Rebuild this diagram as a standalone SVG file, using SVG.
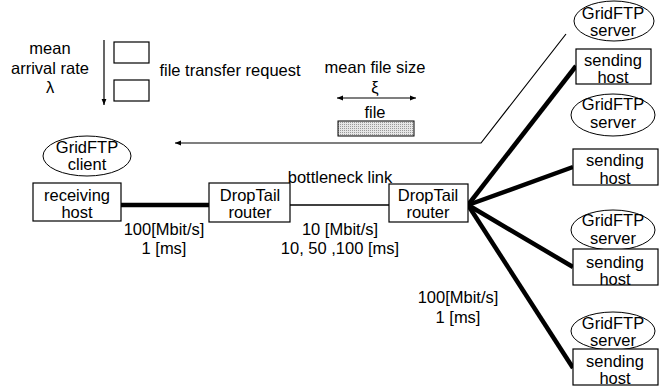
<svg xmlns="http://www.w3.org/2000/svg" width="672" height="388" viewBox="0 0 672 388">
<defs>
<style>
text{font-family:"Liberation Sans",Arial,sans-serif;font-size:16.5px;fill:#000;text-anchor:middle}
.box{fill:#fff;stroke:#000;stroke-width:1.2}
.ell{fill:#fff;stroke:#000;stroke-width:1}
.thin{stroke:#000;stroke-width:1.2;fill:none}
.thick{stroke:#000;stroke-width:4.5;fill:none}
</style>
<marker id="ah" viewBox="0 0 10 10" refX="10" refY="5" markerWidth="6" markerHeight="6" markerUnits="userSpaceOnUse" orient="auto-start-reverse">
<path d="M0,1 L10,5 L0,9 z" fill="#000"/>
</marker>
<pattern id="dots" width="2" height="2" patternUnits="userSpaceOnUse">
<rect width="2" height="2" fill="#e6e6e6"/>
<rect width="1" height="1" fill="#999"/>
</pattern>
</defs>

<g id="connectors">
<line class="thin" x1="104" y1="40" x2="104" y2="105" marker-end="url(#ah)"/>
<polyline class="thin" points="566,34 481,143 175,143" marker-end="url(#ah)"/>
<line class="thin" x1="337" y1="98" x2="416" y2="98" marker-start="url(#ah)" marker-end="url(#ah)"/>
<line class="thick" x1="121" y1="205" x2="209" y2="205"/>
<line class="thin" x1="290" y1="205" x2="389" y2="205" style="stroke-width:1.6"/>
<line class="thick" x1="468" y1="205" x2="576" y2="66"/>
<line class="thick" x1="468" y1="205" x2="573" y2="167"/>
<line class="thick" x1="468" y1="205" x2="573" y2="267"/>
<line class="thick" x1="468" y1="205" x2="573" y2="368"/>
</g>

<g id="request-queue">
<text x="50" y="54">mean</text>
<text x="50" y="74">arrival rate</text>
<text x="50" y="93">λ</text>
<rect class="box" x="114" y="42" width="35" height="21"/>
<rect class="box" x="114" y="80" width="35" height="21"/>
<text x="230" y="76">file transfer request</text>
</g>

<g id="file-size">
<text x="375" y="73">mean file size</text>
<text x="375" y="93">ξ</text>
<text x="375" y="118">file</text>
<rect x="338" y="121" width="76" height="15" fill="url(#dots)" stroke="#000" stroke-width="1"/>
</g>

<g id="client">
<ellipse class="ell" cx="87" cy="156" rx="44" ry="20"/>
<text x="87" y="153">GridFTP</text>
<text x="87" y="170">client</text>
</g>

<g id="receiving-host">
<rect class="box" x="33" y="183" width="88" height="38"/>
<text x="77" y="201">receiving</text>
<text x="77" y="218">host</text>
</g>

<g id="router1">
<rect class="box" x="209" y="183" width="81" height="39"/>
<text x="250" y="201">DropTail</text>
<text x="250" y="218">router</text>
</g>

<g id="router2">
<rect class="box" x="389" y="184" width="79" height="38"/>
<text x="428" y="201">DropTail</text>
<text x="428" y="218">router</text>
</g>

<g id="link-labels">
<text x="164" y="235">100[Mbit/s]</text>
<text x="164" y="254">1 [ms]</text>
<text x="340" y="183">bottleneck link</text>
<text x="340" y="235">10 [Mbit/s]</text>
<text x="340" y="254">10, 50 ,100 [ms]</text>
<text x="458" y="303">100[Mbit/s]</text>
<text x="458" y="323">1 [ms]</text>
</g>

<g id="server1">
<ellipse class="ell" cx="614" cy="21" rx="40" ry="20"/>
<text x="613" y="19">GridFTP</text>
<text x="613" y="36">server</text>
<rect class="box" x="576" y="49" width="75" height="35"/>
<text x="613" y="66">sending</text>
<text x="613" y="83">host</text>
</g>

<g id="server2">
<ellipse class="ell" cx="613" cy="115" rx="42" ry="21"/>
<text x="613" y="110">GridFTP</text>
<text x="613" y="128">server</text>
<rect class="box" x="573" y="149" width="85" height="36"/>
<text x="615" y="166">sending</text>
<text x="615" y="184">host</text>
</g>

<g id="server3">
<ellipse class="ell" cx="613" cy="230" rx="42" ry="20"/>
<text x="613" y="226">GridFTP</text>
<text x="613" y="244">server</text>
<rect class="box" x="573" y="249" width="85" height="36"/>
<text x="615" y="268">sending</text>
<text x="615" y="285">host</text>
</g>

<g id="server4">
<ellipse class="ell" cx="613" cy="331" rx="42" ry="19"/>
<text x="613" y="329">GridFTP</text>
<text x="613" y="346">server</text>
<rect class="box" x="573" y="349" width="85" height="36"/>
<text x="615" y="367">sending</text>
<text x="615" y="384">host</text>
</g>
</svg>
